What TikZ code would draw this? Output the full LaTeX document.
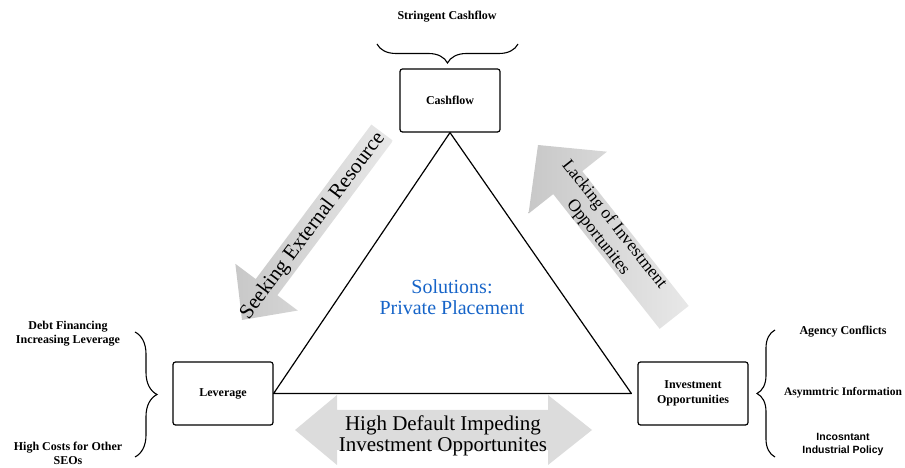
\documentclass[tikz,border=0pt]{standalone}
\usepackage{fontspec}
\setmainfont{Liberation Serif}
\newfontfamily\labsans{Liberation Sans}
\usetikzlibrary{decorations.pathreplacing}
\definecolor{solblue}{RGB}{22,100,200}
\definecolor{arrgray}{RGB}{220,220,220}
\definecolor{headgray}{RGB}{200,200,200}
\definecolor{tailgray}{RGB}{232,232,232}
\begin{document}
\begin{tikzpicture}[x=1pt,y=1pt,
  box/.style={draw, line width=1.2pt, rounded corners=2.5pt, minimum height=63pt,
    align=center, font=\fontsize{12}{14.5}\selectfont\bfseries, inner sep=2pt},
  lab/.style={align=center, font=\fontsize{12}{14}\selectfont\bfseries},
  sanslab/.style={align=center, font=\labsans\fontsize{10.5}{13}\selectfont\bfseries},
  bracestyle/.style={decorate, decoration={brace, amplitude=#1}, line width=1.1pt},
  garrow/.style={left color=headgray, right color=tailgray, draw=none}
]
\useasboundingbox (0,0) rectangle (905,468);

% grey arrows
\begin{scope}[shift={(242,148)}, rotate=53.2]
  \shade[garrow] (0,0) -- (41,39) -- (41,13.5) -- (234,13.5) -- (234,-13.5) -- (41,-13.5) -- (41,-39) -- cycle;
\end{scope}
\begin{scope}[shift={(538,323)}, rotate=-51.7]
  \shade[garrow] (0,0) -- (48,50) -- (48,18.5) -- (219.7,18.5) -- (219.7,-18.5) -- (48,-18.5) -- (48,-50) -- cycle;
\end{scope}
\fill[arrgray] (295,38) -- (337,73) -- (337,58) -- (548,58) -- (548,73) -- (592,38)
  -- (548,3) -- (548,18) -- (337,18) -- (337,3) -- cycle;

% boxes
\node[box, minimum width=100pt] (cash) at (450,367.5) {Cashflow};
\node[box, minimum width=100pt] (lev) at (223,74.5) {Leverage};
\node[box, minimum width=110pt] (inv) at (693,74.5) {Investment\\Opportunities};

% triangle
\draw[line width=1.2pt, line join=round] (cash.south) -- (lev.east) -- ([xshift=-6pt]inv.west) -- cycle;

% arrow texts
\node[align=center, rotate=53.2, font=\fontsize{21}{21}\selectfont] (seek) at (313,242) {Seeking External Resource};
\node[align=center, rotate=-51.7, font=\fontsize{17.5}{20.5}\selectfont] (lack) at (606,237) {Lacking of Investment\\Opportunites};
\node[align=center, font=\fontsize{21}{21}\selectfont] (hd) at (443,32.5) {High Default Impeding\\Investment Opportunites};
\node[align=center, text=solblue, font=\fontsize{20}{21}\selectfont] (sol) at (452,171) {Solutions:\\Private Placement};

% top brace
\coordinate (tbR) at (518,424);
\coordinate (tbL) at (377,424);
\draw[bracestyle=19] (tbR) -- (tbL);
\node[lab] (sc) at (447,451) {Stringent Cashflow};

% left brace
\coordinate (lbT) at (135,136);
\coordinate (lbB) at (135,11);
\draw[bracestyle=22] (lbT) -- (lbB);
\node[lab] (debt) at (68,134) {Debt Financing\\Increasing Leverage};
\node[lab] (hc) at (68,15) {High Costs for Other\\SEOs};

% right brace
\coordinate (rbB) at (775,11);
\coordinate (rbT) at (775,138);
\draw[bracestyle=18] (rbB) -- (rbT);
\node[lab] (ag) at (843,136) {Agency Conflicts};
\node[lab, font=\fontsize{11.5}{14}\selectfont\bfseries] (as) at (843,75) {Asymmtric Information};
\node[sanslab] (ip) at (843,23.5) {Incosntant\\Industrial Policy};
\end{tikzpicture}
\end{document}
